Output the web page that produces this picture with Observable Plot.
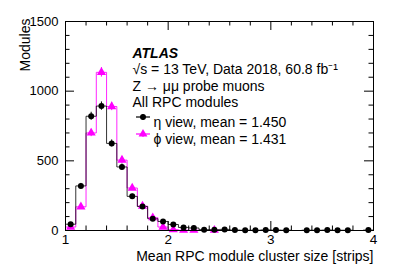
<!DOCTYPE html>
<html><head><meta charset="utf-8">
<script src="https://cdn.jsdelivr.net/npm/d3@7"></script>
<script src="https://cdn.jsdelivr.net/npm/@observablehq/plot@0.6"></script>
<style>
body{margin:0;background:#fff;}
#chart svg{font-family:"Liberation Sans",Arial,sans-serif;overflow:visible;}
</style>
</head><body><div id="chart"></div>
<script>
const binLow = [1.0,1.1,1.2,1.3,1.4,1.5,1.6,1.7,1.8,1.9,2.0,2.1,2.2,2.3,2.4,2.5,2.6,2.7,2.8,2.9,3.0,3.1,3.2,3.3,3.4,3.5,3.6,3.7,3.8,3.9];
const binWidth = 0.1;
const etaCounts = [45,320,820,893,625,456,245,172,85,65,43,22,18,6,6,8,3,2,2,4,3,2,0,2,2,3,2,2,0,3];
const phiCounts = [25,170,700,1135,890,505,305,175,92,25,6,2,2,0,2,0,0,0,0,0,0,0,0,0,0,0,0,0,0,0];
const xMajor = [1,2,3,4];
const xMinor = [1.2,1.4,1.6,1.8,2.2,2.4,2.6,2.8,3.2,3.4,3.6,3.8];
const yMajor = [0,500,1000,1500];
const yMinor = [100,200,300,400,600,700,800,900,1100,1200,1300,1400];
const legendLabels = ["η view, mean = 1.450","ϕ view, mean = 1.431"];
const annotations = ["√s = 13 TeV, Data 2018, 60.8 fb⁻¹","Z → μμ probe muons","All RPC modules"];
const xLabel = "Mean RPC module cluster size [strips]";
const yLabel = "Modules";
const etaColor = "#000000", phiColor = "#ff00ff";

const W = 407, H = 275, mL = 65, mR = 34, mT = 21, mB = 45;
const fw = W - mL - mR, fh = H - mT - mB;

function steps(counts){
  const s = [{x: binLow[0], y: 0}];
  binLow.forEach((x,i)=>s.push({x, y: counts[i]}));
  s.push({x: binLow[binLow.length-1] + binWidth, y: counts[counts.length-1]});
  return s;
}
function points(counts){
  return binLow.map((x,i)=>({x: x + binWidth/2, y: counts[i]})).filter(d=>d.y>0);
}
const etaPts = points(etaCounts), phiPts = points(phiCounts);

const textMarks = [];
textMarks.push(Plot.text(["ATLAS"], {frameAnchor:"top-left", dx: 67, dy: 27, textAnchor:"start", fontWeight:"bold", fontStyle:"italic", fontSize: 14, fill:"black"}));
annotations.forEach((t,i)=>textMarks.push(Plot.text([t], {frameAnchor:"top-left", dx: 67, dy: 43 + i*16.5, textAnchor:"start", fontSize: 14, fill:"black"})));
legendLabels.forEach((t,i)=>textMarks.push(Plot.text([t], {frameAnchor:"top-left", dx: 88, dy: 96 + i*17, textAnchor:"start", fontSize: 14, fill:"black"})));
textMarks.push(Plot.text([xLabel], {frameAnchor:"bottom-right", dx: 0, dy: 30, textAnchor:"end", fontSize: 14, fill:"black"}));
textMarks.push(Plot.text([yLabel], {frameAnchor:"top-left", dx: -45, dy: -3, textAnchor:"end", rotate: -90, fontSize: 14, fill:"black"}));

const chart = Plot.plot({
  width: W, height: H,
  marginLeft: mL, marginRight: mR, marginTop: mT, marginBottom: mB,
  style: {fontSize: "13px", fontFamily: "Liberation Sans, Arial, sans-serif", background: "white", color: "black"},
  x: {domain: [1,4]},
  y: {domain: [0,1500]},
  marks: [
    Plot.line(steps(phiCounts), {x:"x", y:"y", curve:"step-after", stroke: phiColor, strokeOpacity: 0.85, strokeWidth: 1}),
    Plot.line(steps(etaCounts), {x:"x", y:"y", curve:"step-after", stroke: etaColor, strokeWidth: 0.8}),
    Plot.ruleX(phiPts, {x:"x", y1: d=>d.y-Math.sqrt(d.y), y2: d=>d.y+Math.sqrt(d.y), stroke: phiColor, strokeWidth: 1}),
    Plot.ruleX(etaPts, {x:"x", y1: d=>d.y-Math.sqrt(d.y), y2: d=>d.y+Math.sqrt(d.y), stroke: etaColor, strokeWidth: 1}),
    Plot.dot(phiPts, {x:"x", y:"y", symbol:"triangle", r: 3.4, fill: phiColor}),
    Plot.dot(etaPts, {x:"x", y:"y", symbol:"circle", r: 3, fill: etaColor}),
    Plot.frame({stroke:"black", strokeWidth: 1}),
    Plot.tickX(xMajor, {x: d=>d, insetTop: fh-9, stroke:"black"}),
    Plot.tickX(xMinor, {x: d=>d, insetTop: fh-4.5, stroke:"black"}),
    Plot.tickX(xMajor, {x: d=>d, insetBottom: fh-9, stroke:"black"}),
    Plot.tickX(xMinor, {x: d=>d, insetBottom: fh-4.5, stroke:"black"}),
    Plot.tickY(yMajor, {y: d=>d, insetRight: fw-9, stroke:"black"}),
    Plot.tickY(yMinor, {y: d=>d, insetRight: fw-4.5, stroke:"black"}),
    Plot.tickY(yMajor, {y: d=>d, insetLeft: fw-9, stroke:"black"}),
    Plot.tickY(yMinor, {y: d=>d, insetLeft: fw-4.5, stroke:"black"}),
    Plot.axisX(xMajor, {anchor:"bottom", tickSize: 0, tickPadding: 4, label: null, fontSize: 13.5, fill:"black", tickFormat: d=>String(d)}),
    Plot.axisY(yMajor, {anchor:"left", tickSize: 0, tickPadding: 7, label: null, fontSize: 13, fill:"black", tickFormat: d=>String(d)}),
    ...textMarks
  ]
});
const svg = d3.select(chart);
[[etaColor,"circle"],[phiColor,"triangle"]].forEach(([c,s],i)=>{
  const y = mT + 96 + i*17, cx = mL + 78;
  svg.append("line").attr("x1", cx-7).attr("x2", cx+7).attr("y1", y).attr("y2", y).attr("stroke", c).attr("stroke-width", 1.2);
  svg.append("line").attr("x1", cx).attr("x2", cx).attr("y1", y-3).attr("y2", y+3).attr("stroke", c).attr("stroke-width", 1);
  svg.append("path").attr("transform", `translate(${cx},${y})`).attr("d", d3.symbol(s==="circle"?d3.symbolCircle:d3.symbolTriangle, s==="circle"?28:34)()).attr("fill", c);
});
document.getElementById("chart").append(chart);
</script>
</body></html>
